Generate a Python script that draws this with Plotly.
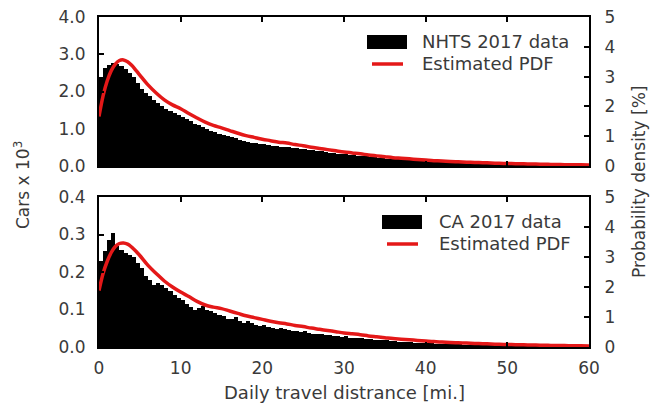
import numpy as np
import plotly.graph_objects as go

# ---------------- data ----------------
bin_width = 0.5  # miles
bin_left = np.arange(0, 60, bin_width)

# NHTS 2017 histogram (cars x 10^3) per 0.5-mi bin
nhts_counts = [
    2.40, 2.62, 2.72, 2.76, 2.74, 2.68, 2.60, 2.50, 2.38, 2.22,
    2.08, 1.97, 1.88, 1.78, 1.70, 1.61, 1.54, 1.48, 1.42, 1.37,
    1.32, 1.26, 1.20, 1.14, 1.09, 1.04, 0.99, 0.95, 0.91, 0.87,
    0.83, 0.80, 0.77, 0.74, 0.71, 0.68, 0.65, 0.63, 0.61, 0.595,
    0.58, 0.565, 0.55, 0.535, 0.52, 0.51, 0.50, 0.485, 0.47, 0.46,
    0.45, 0.435, 0.42, 0.405, 0.39, 0.375, 0.36, 0.348, 0.335, 0.322,
    0.31, 0.30, 0.29, 0.28, 0.27, 0.258, 0.245, 0.235, 0.225, 0.212,
    0.20, 0.192, 0.185, 0.178, 0.17, 0.162, 0.155, 0.148, 0.14, 0.135,
    0.13, 0.125, 0.12, 0.115, 0.11, 0.105, 0.10, 0.096, 0.092, 0.088,
    0.085, 0.082, 0.079, 0.076, 0.073, 0.07, 0.067, 0.064, 0.062, 0.06,
    0.057, 0.055, 0.053, 0.051, 0.049, 0.047, 0.046, 0.044, 0.043, 0.041,
    0.04, 0.038, 0.037, 0.035, 0.034, 0.033, 0.032, 0.031, 0.030, 0.028,
]

# CA 2017 histogram (cars x 10^3) per 0.5-mi bin
ca_counts = [
    0.230, 0.255, 0.285, 0.303, 0.270, 0.258, 0.252, 0.245, 0.240, 0.225,
    0.210, 0.190, 0.180, 0.165, 0.170, 0.166, 0.158, 0.150, 0.140, 0.130,
    0.125, 0.115, 0.108, 0.098, 0.105, 0.110, 0.100, 0.096, 0.090, 0.085,
    0.082, 0.076, 0.074, 0.079, 0.070, 0.065, 0.070, 0.063, 0.060, 0.057,
    0.058, 0.053, 0.051, 0.049, 0.051, 0.047, 0.045, 0.043, 0.044, 0.041,
    0.042, 0.038, 0.036, 0.035, 0.034, 0.032, 0.032, 0.030, 0.029, 0.028,
    0.029, 0.025, 0.024, 0.023, 0.023, 0.021, 0.021, 0.020, 0.019, 0.018,
    0.019, 0.016, 0.015, 0.014, 0.014, 0.013, 0.013, 0.012, 0.011, 0.0105,
    0.011, 0.0095, 0.009, 0.0085, 0.008, 0.0078, 0.0074, 0.007, 0.0067, 0.0064,
    0.0066, 0.0058, 0.0055, 0.0052, 0.005, 0.0048, 0.0046, 0.0044, 0.0042, 0.004,
    0.0042, 0.0037, 0.0035, 0.0034, 0.0033, 0.0032, 0.0031, 0.003, 0.0029, 0.0028,
    0.0028, 0.0027, 0.0026, 0.0025, 0.0025, 0.0024, 0.0023, 0.0022, 0.0022, 0.0021,
]

# Estimated PDF (%)
pdf_x = [0, 0.5, 1, 1.5, 2, 2.5, 3, 3.5, 4, 4.5, 5] + list(range(6, 61))
nhts_pdf = [
    1.66, 2.35, 2.85, 3.20, 3.42, 3.54, 3.56, 3.50, 3.38, 3.22, 3.05,
    2.72, 2.45, 2.22, 2.05, 1.92, 1.76, 1.61, 1.47, 1.36, 1.28,
    1.19, 1.10, 1.02, 0.96, 0.90, 0.85, 0.80, 0.77, 0.72, 0.68,
    0.63, 0.59, 0.55, 0.51, 0.47, 0.44, 0.41, 0.37, 0.34, 0.31,
    0.28, 0.26, 0.24, 0.22, 0.20, 0.18, 0.165, 0.15, 0.14, 0.13,
    0.12, 0.11, 0.10, 0.09, 0.085, 0.078, 0.072, 0.066, 0.06, 0.055,
    0.05, 0.046, 0.042, 0.039, 0.036,
]
ca_pdf = [
    1.88, 2.45, 2.85, 3.15, 3.35, 3.45, 3.47, 3.43, 3.33, 3.20, 3.05,
    2.72, 2.45, 2.20, 2.00, 1.83, 1.68, 1.52, 1.40, 1.33, 1.28,
    1.20, 1.12, 1.04, 0.98, 0.92, 0.86, 0.81, 0.77, 0.72, 0.68,
    0.63, 0.59, 0.55, 0.51, 0.47, 0.44, 0.41, 0.37, 0.34, 0.31,
    0.28, 0.26, 0.24, 0.22, 0.20, 0.18, 0.165, 0.15, 0.14, 0.13,
    0.12, 0.11, 0.10, 0.09, 0.085, 0.078, 0.072, 0.066, 0.06, 0.055,
    0.05, 0.046, 0.042, 0.039, 0.036,
]

top_yticks = [0.0, 1.0, 2.0, 3.0, 4.0]
bot_yticks = [0.0, 0.1, 0.2, 0.3, 0.4]
pdf_ticks = [0, 1, 2, 3, 4, 5]
x_ticks = [0, 10, 20, 30, 40, 50, 60]

top_labels = ["NHTS 2017 data", "Estimated PDF"]
bot_labels = ["CA 2017 data", "Estimated PDF"]

# ---------------- figure ----------------
FONT = "DejaVu Sans"
TXT = "#3a3a3a"
RED = "rgb(228,24,24)"
W, H = 657, 408
bar_centers = bin_left + bin_width / 2

fig = go.Figure()
fig.add_trace(go.Bar(x=bar_centers, y=nhts_counts, width=bin_width,
                     marker=dict(color="black", line=dict(width=0)),
                     name=top_labels[0], xaxis="x", yaxis="y", showlegend=False))
fig.add_trace(go.Scatter(x=pdf_x, y=nhts_pdf, mode="lines", line=dict(color=RED, width=3.5, shape="spline"),
                         name=top_labels[1], xaxis="x", yaxis="y2", showlegend=False))
fig.add_trace(go.Bar(x=bar_centers, y=ca_counts, width=bin_width,
                     marker=dict(color="black", line=dict(width=0)),
                     name=bot_labels[0], xaxis="x2", yaxis="y3", showlegend=False))
fig.add_trace(go.Scatter(x=pdf_x, y=ca_pdf, mode="lines", line=dict(color=RED, width=3.5, shape="spline"),
                         name=bot_labels[1], xaxis="x2", yaxis="y4", showlegend=False))

xdom = [99 / W, 589 / W]
top_dom = [1 - 166 / H, 1 - 17 / H]
bot_dom = [1 - 347 / H, 1 - 197 / H]

axis_common = dict(showline=True, linecolor="black", linewidth=2, ticks="inside", ticklen=5,
                   tickwidth=1.5, tickcolor="black", showgrid=False, zeroline=False,
                   automargin=False, tickfont=dict(family=FONT, size=17, color=TXT))

# manual legends (paper coordinates in pixels -> fractions)
def px(x):
    return x / W

def py(y):
    return 1 - y / H

shapes = []
annotations = []
for (rect_x0, text_x, row1_y, row2_y), labels in [((367, 420, 42, 63), top_labels),
                                                  ((382, 437, 222, 243), bot_labels)]:
    shapes.append(dict(type="rect", xref="paper", yref="paper",
                       x0=px(rect_x0), x1=px(rect_x0 + 40), y0=py(row1_y + 7), y1=py(row1_y - 7),
                       fillcolor="black", line=dict(width=0)))
    shapes.append(dict(type="line", xref="paper", yref="paper",
                       x0=px(rect_x0 + 5), x1=px(rect_x0 + 36), y0=py(row2_y + 1), y1=py(row2_y + 1),
                       line=dict(color=RED, width=3.5)))
    for lab, yy in zip(labels, (row1_y, row2_y)):
        annotations.append(dict(text=lab, x=px(text_x), y=py(yy), xref="paper", yref="paper",
                                xanchor="left", yanchor="middle", showarrow=False,
                                font=dict(family=FONT, size=18, color=TXT)))

annotations += [
    dict(text="Daily travel distrance [mi.]", x=0.5 * (xdom[0] + xdom[1]), y=py(392),
         xref="paper", yref="paper", showarrow=False, yanchor="middle",
         font=dict(size=18, family=FONT, color=TXT)),
    dict(text="Cars x 10<sup>3</sup>", x=px(22), y=py(185), textangle=-90,
         xref="paper", yref="paper", showarrow=False, xanchor="center", yanchor="middle",
         font=dict(size=17, family=FONT, color=TXT)),
    dict(text="Probability density [%]", x=px(639), y=py(182), textangle=-90,
         xref="paper", yref="paper", showarrow=False, xanchor="center", yanchor="middle",
         font=dict(size=17, family=FONT, color=TXT)),
]

fig.update_layout(
    template="none",
    width=W, height=H, margin=dict(l=0, r=0, t=0, b=0, autoexpand=False),
    paper_bgcolor="white", plot_bgcolor="white", bargap=0, barmode="overlay",
    font=dict(family=FONT, color=TXT, size=17),
    showlegend=False,
    xaxis=dict(domain=xdom, anchor="y", range=[0, 60], tickvals=x_ticks, showticklabels=False,
               mirror="ticks", **axis_common),
    yaxis=dict(domain=top_dom, anchor="x", range=[0, 4], tickvals=top_yticks, tickformat=".1f",
               ticklabelstandoff=8, **axis_common),
    yaxis2=dict(overlaying="y", anchor="x", side="right", range=[0, 5], tickvals=pdf_ticks,
                ticklabelstandoff=10, **axis_common),
    xaxis2=dict(domain=xdom, anchor="y3", range=[0, 60], tickvals=x_ticks, mirror="ticks",
                ticklabelstandoff=5, **axis_common),
    yaxis3=dict(domain=bot_dom, anchor="x2", range=[0, 0.4], tickvals=bot_yticks, tickformat=".1f",
                ticklabelstandoff=8, **axis_common),
    yaxis4=dict(overlaying="y3", anchor="x2", side="right", range=[0, 5], tickvals=pdf_ticks,
                ticklabelstandoff=10, **axis_common),
    shapes=shapes,
    annotations=annotations,
)

fig.write_html("out.html")
